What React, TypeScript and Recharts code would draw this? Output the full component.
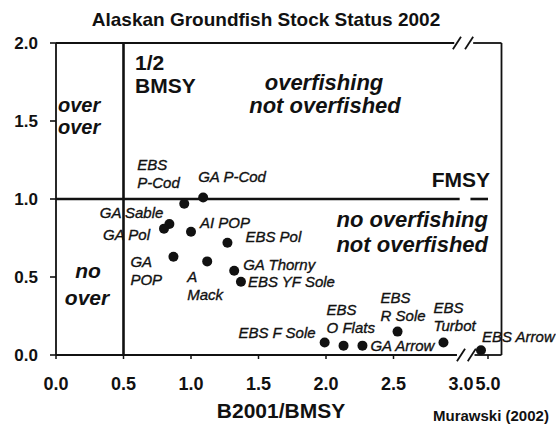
import React from 'react';
import { ScatterChart, Scatter, XAxis, YAxis, ReferenceLine } from 'recharts';

// stock status 2002: biomass ratio (x) vs fishing ratio (y)
const stocks = [
  'GA P-Cod', 'EBS P-Cod', 'GA Sable', 'GA Pol', 'AI POP', 'EBS Pol', 'GA POP', 'A Mack',
  'GA Thorny', 'EBS YF Sole', 'EBS F Sole', 'EBS O Flats', 'GA Arrow', 'EBS R Sole', 'EBS Turbot', 'EBS Arrow',
];
const biomassRatio = [1.09, 0.95, 0.84, 0.8, 1.0, 1.27, 0.87, 1.12, 1.32, 1.37, 1.99, 2.13, 2.27, 2.53, 2.87, 4.48];
const fishingRatio = [1.01, 0.97, 0.84, 0.81, 0.79, 0.72, 0.63, 0.6, 0.54, 0.47, 0.08, 0.06, 0.06, 0.15, 0.08, 0.03];
const xTicks = [0, 0.5, 1, 1.5, 2, 2.5, 3, 5];
const yTicks = [0, 0.5, 1, 1.5, 2];

// broken x axis: beyond 3.0 the scale is squeezed
const BREAK = 3;
const SQUEEZE = 0.1;
const toAxis = (v: number) => (v <= BREAK ? v : BREAK + (v - BREAK) * SQUEEZE);
const fromAxis = (p: number) => (p <= BREAK + 1e-9 ? p : BREAK + (p - BREAK) / SQUEEZE);

const data = stocks.map((name, i) => ({
  name,
  b: biomassRatio[i],
  f: fishingRatio[i],
  px: toAxis(biomassRatio[i]),
}));

const labelLayout: Record<string, { dx: number; dy: number; anchor?: 'start' | 'end'; wrap?: boolean }> = {
  'GA P-Cod': { dx: -5, dy: -15 },
  'EBS P-Cod': { dx: -47, dy: -34, wrap: true },
  'GA Sable': { dx: -6, dy: -6, anchor: 'end' },
  'GA Pol': { dx: -14, dy: 11, anchor: 'end' },
  'AI POP': { dx: 9, dy: -4 },
  'EBS Pol': { dx: 18, dy: -1 },
  'GA POP': { dx: -43, dy: 10, wrap: true },
  'A Mack': { dx: -20, dy: 21, wrap: true },
  'GA Thorny': { dx: 9, dy: -1 },
  'EBS YF Sole': { dx: 7, dy: 5 },
  'EBS F Sole': { dx: -9, dy: -5, anchor: 'end' },
  'EBS O Flats': { dx: -17, dy: -31, wrap: true },
  'EBS R Sole': { dx: -17, dy: -29, wrap: true },
  'EBS Turbot': { dx: -10, dy: -30, wrap: true },
  'GA Arrow': { dx: 8, dy: 5 },
  'EBS Arrow': { dx: 1, dy: -8 },
};

const FONT = '"Liberation Sans", Arial, sans-serif';
const INK = '#111';

const StockDot = (props: any) => {
  const { cx, cy, payload } = props;
  const lay = labelLayout[payload.name] || { dx: 8, dy: 0 };
  const cut = payload.name.indexOf(' ');
  const lines = lay.wrap ? [payload.name.slice(0, cut), payload.name.slice(cut + 1)] : [payload.name];
  return (
    <g>
      <circle cx={cx} cy={cy} r={5} fill={INK} />
      <text
        x={cx + lay.dx}
        y={cy + lay.dy}
        textAnchor={lay.anchor || 'start'}
        fontFamily={FONT}
        fontStyle="italic"
        fontSize={15}
        fill={INK}
        stroke={INK}
        strokeWidth={0.35}
      >
        {lines.map((ln, i) => (
          <tspan key={i} x={cx + lay.dx} dy={i === 0 ? 0 : 18}>{ln}</tspan>
        ))}
      </text>
    </g>
  );
};

const XTick = (props: any) => {
  const { x, y, payload } = props;
  const v = payload.value;
  return (
    <g>
      {Math.abs(v - BREAK) > 1e-6 && <line x1={x} x2={x} y1={y - 4} y2={y} stroke={INK} strokeWidth={1.5} />}
      <text x={x} y={y + 31} textAnchor="middle" fontFamily={FONT} fontWeight="bold" fontSize={18} fill={INK}>
        {fromAxis(v).toFixed(1)}
      </text>
    </g>
  );
};

const frame = { stroke: INK, strokeWidth: 1.8, ifOverflow: 'visible' as const };
const slashH = 0.04;

export default function App() {
  return (
    <div style={{ position: 'absolute', left: 0, top: 0, width: 556, height: 425, background: '#fff' }}>
      <ScatterChart width={556} height={425} margin={{ top: 43, right: 54.5, bottom: 40, left: 0 }}>
        <XAxis
          type="number"
          dataKey="px"
          domain={[0, 3.3]}
          ticks={xTicks.map(toAxis)}
          interval={0}
          axisLine={false}
          tickLine={false}
          tickSize={4}
          tickMargin={0}
          height={30}
          tick={<XTick />}
        />
        <YAxis
          type="number"
          dataKey="f"
          domain={[0, 2]}
          ticks={yTicks}
          interval={0}
          width={56}
          tickFormatter={(v: number) => v.toFixed(1)}
          axisLine={{ stroke: INK, strokeWidth: 1.8 }}
          tickLine={{ stroke: INK, strokeWidth: 1.6 }}
          tickSize={6}
          tickMargin={12}
          tick={{ fill: INK, fontFamily: FONT, fontWeight: 'bold', fontSize: 17 }}
        />

        {/* box with breaks */}
        <ReferenceLine segment={[{ x: 0, y: 2 }, { x: 2.95, y: 2 }]} {...frame} />
        <ReferenceLine segment={[{ x: 3.09, y: 2 }, { x: 3.3, y: 2 }]} {...frame} />
        <ReferenceLine segment={[{ x: 0, y: 0 }, { x: 2.97, y: 0 }]} {...frame} />
        <ReferenceLine segment={[{ x: 3.1, y: 0 }, { x: 3.3, y: 0 }]} {...frame} />
        <ReferenceLine segment={[{ x: 3.3, y: 0 }, { x: 3.3, y: 2 }]} {...frame} />
        <ReferenceLine segment={[{ x: 2.94, y: 2 - slashH }, { x: 3.0, y: 2 + slashH }]} {...frame} />
        <ReferenceLine segment={[{ x: 3.03, y: 2 - slashH }, { x: 3.09, y: 2 + slashH }]} {...frame} />
        <ReferenceLine segment={[{ x: 2.97, y: -slashH }, { x: 3.03, y: slashH }]} {...frame} />
        <ReferenceLine segment={[{ x: 3.05, y: -slashH }, { x: 3.11, y: slashH }]} {...frame} />

        {/* 1/2 BMSY and FMSY thresholds */}
        <ReferenceLine x={0.5} stroke={INK} strokeWidth={2.6} />
        <ReferenceLine segment={[{ x: 0, y: 1 }, { x: 2.99, y: 1 }]} stroke={INK} strokeWidth={2.6} />
        <ReferenceLine segment={[{ x: 3.07, y: 1 }, { x: 3.2, y: 1 }]} stroke={INK} strokeWidth={2.6} />

        <Scatter data={data} dataKey="f" shape={<StockDot />} isAnimationActive={false} />
      </ScatterChart>

      <svg width={556} height={425} style={{ position: 'absolute', left: 0, top: 0, pointerEvents: 'none' }}>
        <g fontFamily={FONT} fill={INK} fontWeight="bold">
          <text x={266} y={26} textAnchor="middle" fontSize={19}>Alaskan Groundfish Stock Status 2002</text>
          <text x={135} y={70} fontSize={21}>1/2</text>
          <text x={135} y={93} fontSize={21}>BMSY</text>
          <text x={490} y={187} textAnchor="end" fontSize={21}>FMSY</text>
          <text x={281} y={418} textAnchor="middle" fontSize={21}>B2001/BMSY</text>
          <text x={433} y={421} fontSize={15}>Murawski (2002)</text>
          <g fontStyle="italic">
            <text x={58} y={112} fontSize={20}>over</text>
            <text x={58} y={134} fontSize={20}>over</text>
            <text x={88} y={278} textAnchor="middle" fontSize={21}>no</text>
            <text x={87} y={305} textAnchor="middle" fontSize={21}>over</text>
            <text x={324} y={90} textAnchor="middle" fontSize={22}>overfishing</text>
            <text x={325} y={113} textAnchor="middle" fontSize={22}>not overfished</text>
            <text x={488} y={227} textAnchor="end" fontSize={22}>no overfishing</text>
            <text x={488} y={252} textAnchor="end" fontSize={22}>not overfished</text>
          </g>
        </g>
      </svg>
    </div>
  );
}
